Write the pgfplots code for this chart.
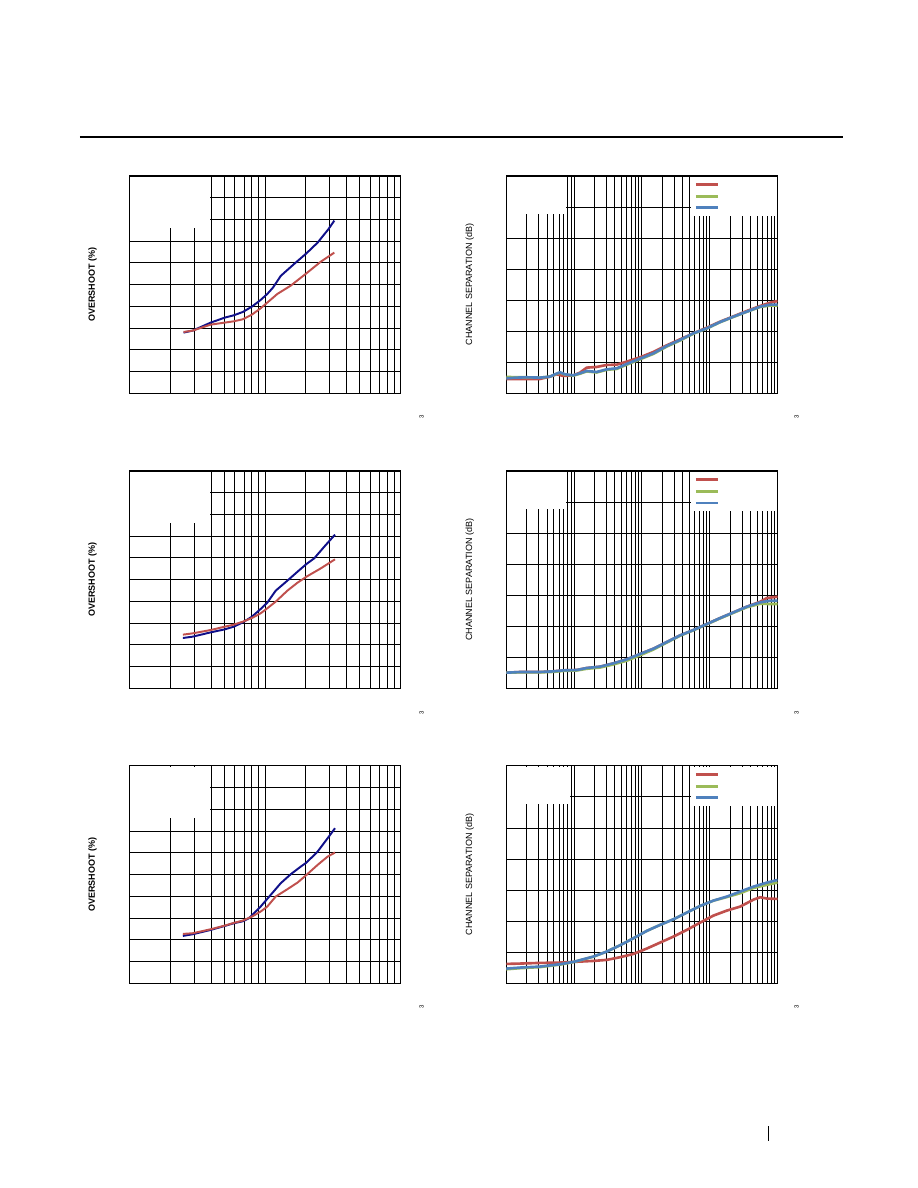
\documentclass[border=0pt]{standalone}
\usepackage{fontspec}
\setmainfont{Liberation Sans}
\usepackage{pgfplots}
\pgfplotsset{compat=1.18}
\definecolor{navy}{HTML}{10108A}
\definecolor{xred}{HTML}{C0504D}
\definecolor{xgreen}{HTML}{9BBB59}
\definecolor{xblue}{HTML}{4F81BD}
\pgfplotsset{
  baseplot/.style={scale only axis, width=180.9pt, height=144.9pt,
    xticklabels={}, yticklabels={}, tick style={draw=none},
    major tick length=0pt, minor tick length=0pt, grid=both,
    major grid style={black, line width=0.6pt},
    minor grid style={black, line width=0.6pt},
    axis line style={black, line width=0.8pt}},
  lplot/.style={baseplot, xmin=1, xmax=3, ymin=0, ymax=50,
    xtick={1,2,3},
    minor xtick={1.30103,1.47712,1.60206,1.69897,1.77815,1.84510,1.90309,1.95424,
                 2.30103,2.47712,2.60206,2.69897,2.77815,2.84510,2.90309,2.95424},
    ytick={0,5,10,15,20,25,30,35,40,45,50},
    ylabel={\fontsize{6}{7}\selectfont\bfseries OVERSHOOT (\%)},
    ylabel style={at={(rel axis cs:-0.135,0.5)}, anchor=center}},
  rplot/.style={baseplot, xmin=2, xmax=6, ymin=-140, ymax=0,
    xtick={2,3,4,5,6},
    minor xtick={2.30103,2.47712,2.60206,2.69897,2.77815,2.84510,2.90309,2.95424,
                 3.30103,3.47712,3.60206,3.69897,3.77815,3.84510,3.90309,3.95424,
                 4.30103,4.47712,4.60206,4.69897,4.77815,4.84510,4.90309,4.95424,
                 5.30103,5.47712,5.60206,5.69897,5.77815,5.84510,5.90309,5.95424},
    ytick={-140,-120,-100,-80,-60,-40,-20,0},
    ylabel={\fontsize{6}{7}\selectfont CHANNEL SEPARATION (dB)},
    ylabel style={at={(rel axis cs:-0.134,0.5)}, anchor=center},
    legend style={at={(rel axis cs:0.6926,0.98)}, anchor=north west, draw=none, fill=none,
      inner sep=0pt, row sep=2.2pt, font=\fontsize{4}{5}\selectfont},
    legend image code/.code={\draw[##1] (0pt,0pt) -- (14.7pt,0pt);}},
  lcurve/.style={line width=1.3pt},
  rcurve/.style={line width=1.75pt}
}
\begin{document}
\begin{tikzpicture}[x=1pt,y=1pt]
\useasboundingbox[fill=white] (0,0) rectangle (612,792);
\draw[line width=0.8pt] (53.3,700.7) -- (562,700.7);
\draw[line width=0.9pt] (512.2,41.3) -- (512.2,31.5);

% ---------------- Left plot 1 ----------------
\begin{axis}[lplot, at={(86.2pt,529.8pt)}, anchor=south west]
\addplot[fill=white, draw=none, forget plot] coordinates {(1.005,38) (1.592,38) (1.592,49.8) (1.005,49.8)};
\addplot[navy, lcurve] coordinates {(1.400,13.96) (1.467,14.42) (1.600,16.26) (1.704,17.41) (1.770,17.94) (1.837,18.71) (1.904,19.94) (1.968,21.47) (2.017,22.85) (2.059,24.31) (2.116,27.00) (2.215,29.75) (2.306,32.21) (2.388,34.66) (2.467,37.73) (2.511,39.72)};
\addplot[xred, lcurve] coordinates {(1.400,14.11) (1.467,14.42) (1.600,15.80) (1.704,16.26) (1.770,16.56) (1.837,17.03) (1.904,18.10) (1.968,19.56) (2.017,20.86) (2.091,22.85) (2.190,24.77) (2.306,27.61) (2.412,30.29) (2.511,32.36)};
\end{axis}

% ---------------- Left plot 2 ----------------
\begin{axis}[lplot, at={(86.2pt,333.1pt)}, anchor=south west]
\addplot[fill=white, draw=none, forget plot] coordinates {(1.005,38) (1.592,38) (1.592,49.8) (1.005,49.8)};
\addplot[navy, lcurve] coordinates {(1.395,11.58) (1.467,11.89) (1.600,12.88) (1.704,13.57) (1.770,14.19) (1.837,15.18) (1.904,16.49) (1.968,18.25) (2.017,19.71) (2.079,22.47) (2.165,24.77) (2.240,26.84) (2.306,28.61) (2.363,29.91) (2.437,32.59) (2.516,35.35)};
\addplot[xred, lcurve] coordinates {(1.395,12.35) (1.467,12.65) (1.600,13.42) (1.704,14.19) (1.770,14.65) (1.837,15.34) (1.904,16.18) (1.968,17.26) (2.017,18.41) (2.079,19.94) (2.165,22.47) (2.240,24.31) (2.306,25.69) (2.412,27.61) (2.516,29.68)};
\end{axis}

% ---------------- Left plot 3 ----------------
\begin{axis}[lplot, at={(86.2pt,136.5pt)}, anchor=south west]
\addplot[fill=white, draw=none, forget plot] coordinates {(1.005,38) (1.592,38) (1.592,49.8) (1.005,49.8)};
\addplot[navy, lcurve] coordinates {(1.395,10.89) (1.467,11.27) (1.600,12.27) (1.704,13.19) (1.770,13.80) (1.837,14.26) (1.881,14.95) (1.919,16.10) (1.968,17.64) (2.042,20.32) (2.116,23.01) (2.190,25.08) (2.264,26.84) (2.306,27.76) (2.388,30.29) (2.462,33.36) (2.516,35.66)};
\addplot[xred, lcurve] coordinates {(1.395,11.35) (1.467,11.50) (1.600,12.42) (1.704,13.27) (1.770,13.88) (1.837,14.42) (1.904,15.34) (1.968,16.49) (2.017,17.64) (2.079,19.94) (2.165,21.63) (2.240,23.16) (2.306,24.92) (2.388,27.23) (2.462,29.14) (2.516,30.06)};
\end{axis}

% ---------------- Right plot 1 ----------------
\begin{axis}[rplot, at={(337.5pt,529.8pt)}, anchor=south west]
\addplot[fill=white, draw=none, forget plot] coordinates {(2.008,-24.8) (2.880,-24.8) (2.880,-0.6) (2.008,-0.6)};
\addplot[fill=white, draw=none, forget plot] coordinates {(4.719,-25.8) (5.992,-25.8) (5.992,-0.6) (4.719,-0.6)};
\addplot[xred, rcurve] coordinates {(2.000,-130.77) (2.251,-130.77) (2.497,-130.77) (2.645,-129.27) (2.743,-127.76) (2.841,-128.84) (2.989,-128.41) (3.087,-126.69) (3.186,-123.47) (3.333,-123.04) (3.481,-121.75) (3.629,-121.54) (3.776,-119.60) (3.973,-116.81) (4.170,-113.38) (4.367,-109.08) (4.563,-105.22) (4.760,-101.35) (4.957,-97.70) (5.154,-93.84) (5.351,-90.40) (5.547,-86.97) (5.744,-83.75) (5.892,-81.60) (6.000,-80.53)};
\addlegendentry{}
\addplot[xgreen, rcurve] coordinates {(2.000,-129.5) (2.153,-129.6) (2.300,-129.69) (2.497,-129.91) (2.645,-129.27) (2.718,-127.9) (2.792,-126.7) (2.866,-127.9) (2.989,-128.6) (3.087,-127.4) (3.186,-125.9) (3.333,-126.6) (3.481,-124.9) (3.629,-124.3) (3.776,-121.6) (3.973,-118.1) (4.170,-114.6) (4.367,-109.9) (4.563,-106.0) (4.760,-101.6) (4.957,-98.3) (5.154,-94.2) (5.351,-90.8) (5.547,-87.5) (5.744,-84.4) (5.892,-83.5) (6.000,-83.5)};
\addlegendentry{}
\addplot[xblue, rcurve] coordinates {(2.000,-130.34) (2.153,-129.91) (2.300,-129.69) (2.497,-129.91) (2.645,-129.27) (2.718,-127.76) (2.792,-126.47) (2.866,-127.76) (2.989,-128.41) (3.087,-127.12) (3.186,-125.62) (3.333,-126.26) (3.481,-124.54) (3.629,-123.90) (3.776,-121.11) (3.973,-117.67) (4.170,-114.24) (4.367,-109.51) (4.563,-105.65) (4.760,-101.35) (4.957,-98.13) (5.154,-94.05) (5.351,-90.62) (5.547,-87.40) (5.744,-84.18) (5.892,-82.89) (6.000,-82.89)};
\addlegendentry{}
\end{axis}

% ---------------- Right plot 2 ----------------
\begin{axis}[rplot, at={(337.5pt,333.1pt)}, anchor=south west]
\addplot[fill=white, draw=none, forget plot] coordinates {(2.008,-24.8) (2.880,-24.8) (2.880,-0.6) (2.008,-0.6)};
\addplot[fill=white, draw=none, forget plot] coordinates {(4.719,-25.8) (5.992,-25.8) (5.992,-0.6) (4.719,-0.6)};
\addplot[xred, rcurve] coordinates {(2.000,-129.91) (2.202,-129.48) (2.497,-129.48) (2.694,-129.05) (2.841,-128.41) (3.038,-128.19) (3.186,-126.90) (3.383,-126.04) (3.580,-123.90) (3.776,-121.32) (3.973,-117.89) (4.170,-114.45) (4.367,-110.16) (4.563,-105.86) (4.760,-102.43) (4.957,-98.56) (5.154,-94.70) (5.351,-91.05) (5.547,-87.40) (5.744,-84.2) (5.843,-81.8) (6.000,-80.96)};
\addlegendentry{}
\addplot[xgreen, rcurve] coordinates {(2.000,-129.91) (2.202,-129.7) (2.497,-129.7) (2.694,-129.4) (2.841,-128.8) (3.038,-128.5) (3.186,-127.4) (3.383,-126.6) (3.580,-124.6) (3.776,-122.2) (3.973,-118.7) (4.170,-115.0) (4.367,-110.5) (4.563,-106.1) (4.760,-102.6) (4.957,-98.7) (5.154,-94.9) (5.351,-91.3) (5.547,-87.8) (5.744,-85.5) (5.892,-85.7) (6.000,-85.68)};
\addlegendentry{}
\addplot[xblue, rcurve] coordinates {(2.000,-129.91) (2.202,-129.48) (2.497,-129.48) (2.694,-129.05) (2.841,-128.41) (3.038,-128.19) (3.186,-126.90) (3.383,-126.04) (3.580,-123.90) (3.776,-121.32) (3.973,-117.89) (4.170,-114.45) (4.367,-110.16) (4.563,-105.86) (4.760,-102.43) (4.957,-98.56) (5.154,-94.70) (5.351,-91.05) (5.547,-87.40) (5.744,-84.61) (5.892,-83.53) (6.000,-83.53)};
\addlegendentry{}
\end{axis}

% ---------------- Right plot 3 ----------------
\begin{axis}[rplot, at={(337.5pt,136.5pt)}, anchor=south west]
\addplot[fill=white, draw=none, forget plot] coordinates {(2.008,-24.8) (2.940,-24.8) (2.940,-0.6) (2.008,-0.6)};
\addplot[fill=white, draw=none, forget plot] coordinates {(4.719,-25.8) (5.992,-25.8) (5.992,-0.6) (4.719,-0.6)};
\addplot[xred, rcurve] coordinates {(2.000,-127.55) (2.202,-127.33) (2.497,-126.90) (2.792,-126.69) (2.989,-126.26) (3.284,-125.62) (3.481,-124.97) (3.678,-123.25) (3.875,-121.11) (4.071,-117.67) (4.268,-113.81) (4.465,-109.94) (4.662,-105.65) (4.859,-100.92) (5.055,-96.41) (5.252,-93.19) (5.449,-90.62) (5.646,-86.11) (5.744,-84.61) (5.843,-85.47) (6.000,-85.68)};
\addlegendentry{}
\addplot[xgreen, rcurve] coordinates {(2.000,-131.0) (2.202,-130.3) (2.497,-129.6) (2.792,-128.0) (2.989,-126.4) (3.284,-122.9) (3.481,-119.6) (3.678,-115.5) (3.875,-111.0) (4.071,-106.3) (4.268,-102.4) (4.465,-98.8) (4.662,-94.5) (4.859,-90.2) (5.055,-86.8) (5.252,-84.5) (5.449,-82.0) (5.646,-78.6) (5.843,-76.6) (6.000,-75.16)};
\addlegendentry{}
\addplot[xblue, rcurve] coordinates {(2.000,-130.55) (2.202,-129.91) (2.497,-129.27) (2.792,-127.76) (2.989,-126.26) (3.284,-122.82) (3.481,-119.60) (3.678,-115.52) (3.875,-111.02) (4.071,-106.29) (4.268,-102.43) (4.465,-98.78) (4.662,-94.48) (4.859,-90.19) (5.055,-86.75) (5.252,-84.18) (5.449,-80.96) (5.646,-77.74) (5.843,-75.16) (6.000,-73.44)};
\addlegendentry{}
\end{axis}

% small figure-number fragments
\foreach \yy in {514.2,316.7,120.9} {
  \node[rotate=90, font=\fontsize{4}{4}\selectfont, inner sep=0pt] at (281.1,\yy) {3};
  \node[rotate=90, font=\fontsize{4}{4}\selectfont, inner sep=0pt] at (531.1,\yy) {3};
}
\end{tikzpicture}
\end{document}
